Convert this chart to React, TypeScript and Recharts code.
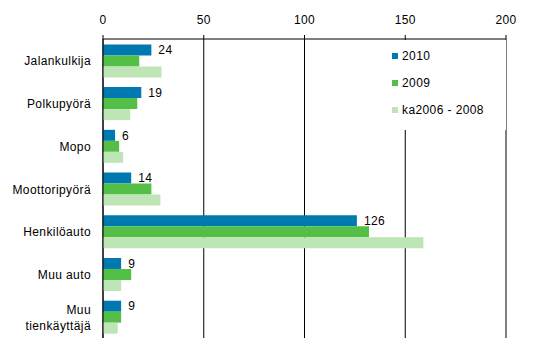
import { Bar, BarChart, CartesianGrid, LabelList, Legend, XAxis, YAxis } from "recharts";

const categories = [
  "Jalankulkija",
  "Polkupyörä",
  "Mopo",
  "Moottoripyörä",
  "Henkilöauto",
  "Muu auto",
  "Muu tienkäyttäjä"
];
const v2010 = [24, 19, 6, 14, 126, 9, 9];
const v2009 = [18, 17, 8, 24, 132, 14, 9];
const vAvg = [29, 13.5, 10, 28.5, 159, 9, 7.3];
const xTicks = [0, 50, 100, 150, 200];

const series = [
  { key: "y2010", name: "2010", color: "#0079b0" },
  { key: "y2009", name: "2009", color: "#54bf47" },
  { key: "avg", name: "ka2006 - 2008", color: "#bde5b5" }
];

const data = categories.map((name, i) => ({
  name,
  y2010: v2010[i],
  y2009: v2009[i],
  avg: vAvg[i]
}));

const font = "'Liberation Sans', Arial, sans-serif";
const spacing = 0.4;

function CategoryTick({ x, y, payload }: any) {
  const value: string = payload.value;
  const lines = value.length > 14 ? value.split(" ") : [value];
  return (
    <text
      x={x}
      y={y}
      textAnchor="end"
      fontSize={12}
      fill="#000"
      fontFamily={font}
      letterSpacing={spacing}
    >
      {lines.map((line, i) => (
        <tspan key={i} x={x} dy={i === 0 ? 5 - (lines.length - 1) * 8 : 16}>
          {line}
        </tspan>
      ))}
    </text>
  );
}

function LegendBox() {
  return (
    <div style={{ background: "#fff", width: 124, height: 90, paddingTop: 2, boxSizing: "border-box" }}>
      {series.map(s => (
        <div
          key={s.key}
          style={{
            display: "flex",
            alignItems: "center",
            height: 27,
            fontSize: 12,
            fontFamily: font,
            letterSpacing: spacing,
            color: "#000"
          }}
        >
          <span style={{ width: 6, height: 6, background: s.color, marginLeft: 10, marginRight: 4 }} />
          {s.name}
        </div>
      ))}
    </div>
  );
}

export default function App() {
  return (
    <div style={{ position: "absolute", left: 0, top: 0, background: "#fff" }}>
      <BarChart
        width={548}
        height={362}
        data={data}
        layout="vertical"
        margin={{ top: 9, right: 42, bottom: 24, left: 0 }}
        barCategoryGap={5.4}
        barGap={0}
      >
        <CartesianGrid horizontal={false} stroke="#000" strokeOpacity={1} />
        <XAxis
          type="number"
          orientation="top"
          domain={[0, 200]}
          ticks={xTicks}
          height={30}
          axisLine={{ stroke: "#000" }}
          tickLine={{ stroke: "#000" }}
          tickSize={4}
          tickMargin={11}
          tick={{ fontSize: 12, fill: "#000", fontFamily: font, letterSpacing: spacing }}
        />
        <YAxis
          type="category"
          dataKey="name"
          width={103}
          axisLine={{ stroke: "#000" }}
          tickLine={false}
          tickSize={6}
          tickMargin={6}
          tick={<CategoryTick />}
          interval={0}
        />
        <Legend
          layout="vertical"
          align="center"
          verticalAlign="middle"
          content={<LegendBox />}
          wrapperStyle={{ position: "absolute", left: 382, top: 40, width: 124, height: 90 }}
        />
        {series.map(s => (
          <Bar key={s.key} dataKey={s.key} name={s.name} fill={s.color} isAnimationActive={false}>
            {s.key === "y2010" && (
              <LabelList
                dataKey={s.key}
                position="right"
                offset={7}
                fill="#000"
                fontSize={12}
                fontFamily={font}
                letterSpacing={spacing}
              />
            )}
          </Bar>
        ))}
      </BarChart>
    </div>
  );
}
